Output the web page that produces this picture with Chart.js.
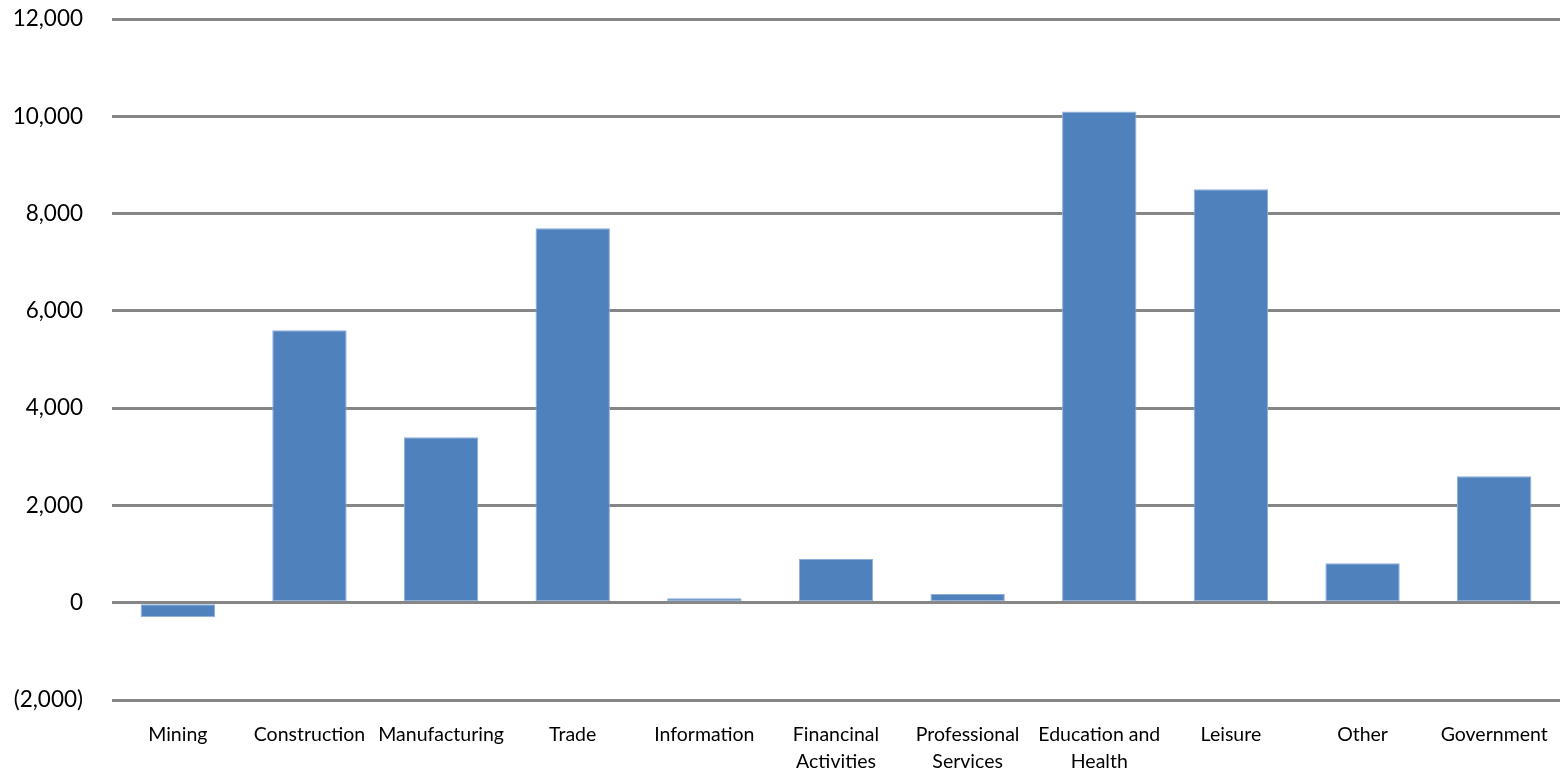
<!DOCTYPE html>
<html>
<head>
<meta charset="utf-8">
<script src="https://cdn.jsdelivr.net/npm/chart.js@4"></script>
<style>
html,body{margin:0;padding:0;background:#fff;}
#wrap{width:1564px;height:773px;}
</style>
</head>
<body>
<div id="wrap"><canvas id="c" width="1564" height="773"></canvas></div>
<script>
const categories = ["Mining", "Construction", "Manufacturing", "Trade", "Information", ["Financinal", "Activities"], ["Professional", "Services"], ["Education and", "Health"], "Leisure", "Other", "Government"];
const values = [-300, 5600, 3400, 7700, 90, 900, 180, 10100, 8500, 810, 2600];
const yMin = -2000, yMax = 12000, yStep = 2000;

function fmt(v){
  const s = Math.abs(v).toLocaleString('en-US');
  return v < 0 ? '(' + s + ')' : s;
}

new Chart(document.getElementById('c'), {
  type: 'bar',
  data: {
    labels: categories,
    datasets: [{
      data: values,
      backgroundColor: '#4F81BD',
      borderColor: '#8EAEDA',
      borderWidth: 1,
      borderSkipped: false,
      barPercentage: 0.565,
      categoryPercentage: 1.0
    }]
  },
  options: {
    responsive: false,
    animation: false,
    devicePixelRatio: 1,
    layout: { padding: { top: 19, right: 4, left: 0, bottom: 0 } },
    plugins: { legend: { display: false }, tooltip: { enabled: false } },
    scales: {
      x: {
        grid: { display: false, drawTicks: false },
        border: { display: false },
        ticks: { color: '#000', font: { family: 'Lato', size: 19.5, lineHeight: 1.35 }, maxRotation: 0, autoSkip: false, padding: 22 },
        afterFit: (s) => { s.height = 73; s.paddingLeft = 0; s.paddingRight = 0; }
      },
      y: {
        min: yMin, max: yMax,
        grid: { color: '#868686', lineWidth: 3, drawTicks: false },
        border: { display: false },
        ticks: { stepSize: yStep, color: '#000', font: { family: 'Lato', size: 22.5 }, padding: 29, callback: (v) => fmt(v) },
        afterFit: (s) => { s.width = 112; s.paddingTop = 0; s.paddingBottom = 0; }
      }
    }
  }
});
</script>
</body>
</html>
